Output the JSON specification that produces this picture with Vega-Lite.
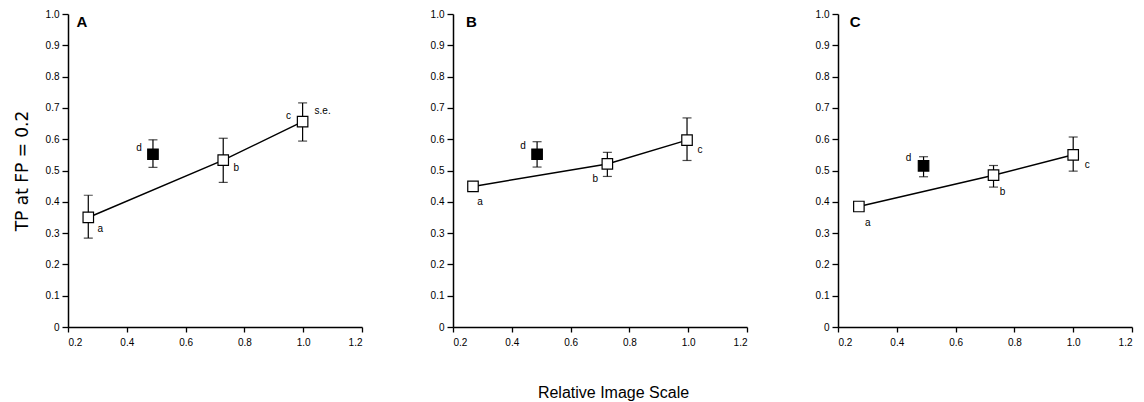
{
  "$schema": "https://vega.github.io/schema/vega-lite/v6.json",
  "background": "white",
  "padding": {"left": 13, "top": 9, "right": 5, "bottom": 5},
  "bounds": "flush",
  "spacing": 91,
  "config": {
    "view": {"stroke": null},
    "font": "Liberation Sans",
    "axis": {
      "grid": false,
      "domainColor": "black",
      "domainWidth": 1.5,
      "tickColor": "black",
      "tickWidth": 1.3,
      "tickSize": 5,
      "labelFont": "Liberation Sans",
      "labelFontSize": 10,
      "labelColor": "black",
      "titleColor": "black",
      "titleFont": "Liberation Sans",
      "titleFontWeight": "normal"
    }
  },
  "datasets": {
    "pts": [
      {"panel": "A", "pt": "a", "kind": "open", "x": 0.269, "y": 0.35, "lo": 0.284, "hi": 0.421, "pos": "se", "note": null},
      {"panel": "A", "pt": "d", "kind": "filled", "x": 0.489, "y": 0.552, "lo": 0.51, "hi": 0.598, "pos": "nw", "note": null},
      {"panel": "A", "pt": "b", "kind": "open", "x": 0.728, "y": 0.533, "lo": 0.462, "hi": 0.603, "pos": "e", "note": null},
      {"panel": "A", "pt": "c", "kind": "open", "x": 0.998, "y": 0.656, "lo": 0.594, "hi": 0.716, "pos": "nw", "note": "s.e."},
      {"panel": "B", "pt": "a", "kind": "open", "x": 0.268, "y": 0.449, "lo": null, "hi": null, "pos": "s", "note": null},
      {"panel": "B", "pt": "d", "kind": "filled", "x": 0.486, "y": 0.552, "lo": 0.511, "hi": 0.592, "pos": "nw", "note": null},
      {"panel": "B", "pt": "b", "kind": "open", "x": 0.725, "y": 0.521, "lo": 0.481, "hi": 0.558, "pos": "sw", "note": null},
      {"panel": "B", "pt": "c", "kind": "open", "x": 0.996, "y": 0.597, "lo": 0.532, "hi": 0.668, "pos": "e", "note": null},
      {"panel": "C", "pt": "a", "kind": "open", "x": 0.271, "y": 0.385, "lo": null, "hi": null, "pos": "s", "note": null},
      {"panel": "C", "pt": "d", "kind": "filled", "x": 0.491, "y": 0.515, "lo": 0.48, "hi": 0.544, "pos": "nw", "note": null},
      {"panel": "C", "pt": "b", "kind": "open", "x": 0.729, "y": 0.485, "lo": 0.447, "hi": 0.516, "pos": "s", "note": null},
      {"panel": "C", "pt": "c", "kind": "open", "x": 1.0, "y": 0.55, "lo": 0.498, "hi": 0.607, "pos": "e", "note": null}
    ]
  },
  "hconcat": [
    {
      "width": 294, "height": 313,
      "data": {"name": "pts"},
      "transform": [{"filter": "datum.panel == 'A'"}],
      "encoding": {
        "x": {"field": "x", "type": "quantitative", "scale": {"domain": [0.2, 1.2], "nice": false},
          "axis": {"values": [0.2, 0.4, 0.6, 0.8, 1.0, 1.2], "format": ".1f", "title": null, "labelPadding": 5}},
        "y": {"field": "y", "type": "quantitative", "scale": {"domain": [0, 1], "nice": false},
          "axis": {"values": [0, 0.1, 0.2, 0.3, 0.4, 0.5, 0.6, 0.7, 0.8, 0.9, 1.0], "labelExpr": "datum.value == 0 ? '0' : format(datum.value, '.1f')", "labelPadding": 3, "tickSize": 6,
            "title": "TP at FP = 0.2", "titleFont": "DejaVu Sans", "titleFontSize": 17, "titlePadding": 14}}
      },
      "layer": [
        {"transform": [{"filter": "datum.lo != null"}], "mark": {"type": "rule", "color": "black", "strokeWidth": 1.2}, "encoding": {"y": {"field": "lo", "type": "quantitative"}, "y2": {"field": "hi"}}},
        {"transform": [{"filter": "datum.lo != null"}], "mark": {"type": "tick", "orient": "horizontal", "color": "black", "size": 9, "thickness": 1.2}, "encoding": {"y": {"field": "lo", "type": "quantitative"}}},
        {"transform": [{"filter": "datum.lo != null"}], "mark": {"type": "tick", "orient": "horizontal", "color": "black", "size": 9, "thickness": 1.2}, "encoding": {"y": {"field": "hi", "type": "quantitative"}}},
        {"transform": [{"filter": "datum.kind == 'open'"}], "mark": {"type": "line", "color": "black", "strokeWidth": 1.5}, "encoding": {"order": {"field": "x", "type": "quantitative"}}},
        {"mark": {"type": "point", "shape": "square", "filled": true, "stroke": "black", "strokeWidth": 1.2, "size": 110, "opacity": 1},
          "encoding": {"fill": {"field": "kind", "type": "nominal", "scale": {"domain": ["open", "filled"], "range": ["white", "black"]}, "legend": null}}},
        {"transform": [{"filter": "datum.pos == 'se'"}], "mark": {"type": "text", "color": "black", "fontSize": 10, "dx": 12, "dy": 12}, "encoding": {"text": {"field": "pt"}}},
        {"transform": [{"filter": "datum.pos == 'e'"}], "mark": {"type": "text", "color": "black", "fontSize": 10, "dx": 13, "dy": 8}, "encoding": {"text": {"field": "pt"}}},
        {"transform": [{"filter": "datum.pos == 'nw'"}], "mark": {"type": "text", "color": "black", "fontSize": 10, "dx": -14, "dy": -6}, "encoding": {"text": {"field": "pt"}}},
        {"transform": [{"filter": "datum.note != null"}], "mark": {"type": "text", "color": "black", "fontSize": 10, "dx": 20, "dy": -11}, "encoding": {"text": {"field": "note"}}},
        {"transform": [{"filter": "datum.pt == 'a'"}], "mark": {"type": "text", "color": "black", "fontSize": 15, "fontWeight": "bold"},
          "encoding": {"x": {"datum": 0.247}, "y": {"datum": 0.976}, "text": {"field": "panel"}}}
      ]
    },
    {
      "width": 294, "height": 313,
      "data": {"name": "pts"},
      "transform": [{"filter": "datum.panel == 'B'"}],
      "encoding": {
        "x": {"field": "x", "type": "quantitative", "scale": {"domain": [0.2, 1.2], "nice": false},
          "axis": {"values": [0.2, 0.4, 0.6, 0.8, 1.0, 1.2], "format": ".1f", "labelPadding": 5,
            "title": "Relative Image Scale", "titleFontSize": 16, "titlePadding": 37, "titleX": 160}},
        "y": {"field": "y", "type": "quantitative", "scale": {"domain": [0, 1], "nice": false},
          "axis": {"values": [0, 0.1, 0.2, 0.3, 0.4, 0.5, 0.6, 0.7, 0.8, 0.9, 1.0], "labelExpr": "datum.value == 0 ? '0' : format(datum.value, '.1f')", "labelPadding": 3, "tickSize": 6, "title": null}}
      },
      "layer": [
        {"transform": [{"filter": "datum.lo != null"}], "mark": {"type": "rule", "color": "black", "strokeWidth": 1.2}, "encoding": {"y": {"field": "lo", "type": "quantitative"}, "y2": {"field": "hi"}}},
        {"transform": [{"filter": "datum.lo != null"}], "mark": {"type": "tick", "orient": "horizontal", "color": "black", "size": 9, "thickness": 1.2}, "encoding": {"y": {"field": "lo", "type": "quantitative"}}},
        {"transform": [{"filter": "datum.lo != null"}], "mark": {"type": "tick", "orient": "horizontal", "color": "black", "size": 9, "thickness": 1.2}, "encoding": {"y": {"field": "hi", "type": "quantitative"}}},
        {"transform": [{"filter": "datum.kind == 'open'"}], "mark": {"type": "line", "color": "black", "strokeWidth": 1.5}, "encoding": {"order": {"field": "x", "type": "quantitative"}}},
        {"mark": {"type": "point", "shape": "square", "filled": true, "stroke": "black", "strokeWidth": 1.2, "size": 110, "opacity": 1},
          "encoding": {"fill": {"field": "kind", "type": "nominal", "scale": {"domain": ["open", "filled"], "range": ["white", "black"]}, "legend": null}}},
        {"transform": [{"filter": "datum.pos == 'e'"}], "mark": {"type": "text", "color": "black", "fontSize": 10, "dx": 13, "dy": 10}, "encoding": {"text": {"field": "pt"}}},
        {"transform": [{"filter": "datum.pos == 's'"}], "mark": {"type": "text", "color": "black", "fontSize": 10, "dx": 7, "dy": 16}, "encoding": {"text": {"field": "pt"}}},
        {"transform": [{"filter": "datum.pos == 'sw'"}], "mark": {"type": "text", "color": "black", "fontSize": 10, "dx": -12, "dy": 15}, "encoding": {"text": {"field": "pt"}}},
        {"transform": [{"filter": "datum.pos == 'nw'"}], "mark": {"type": "text", "color": "black", "fontSize": 10, "dx": -14, "dy": -8}, "encoding": {"text": {"field": "pt"}}},
        {"transform": [{"filter": "datum.pt == 'a'"}], "mark": {"type": "text", "color": "black", "fontSize": 15, "fontWeight": "bold"},
          "encoding": {"x": {"datum": 0.263}, "y": {"datum": 0.976}, "text": {"field": "panel"}}}
      ]
    },
    {
      "width": 294, "height": 313,
      "data": {"name": "pts"},
      "transform": [{"filter": "datum.panel == 'C'"}],
      "encoding": {
        "x": {"field": "x", "type": "quantitative", "scale": {"domain": [0.2, 1.2], "nice": false},
          "axis": {"values": [0.2, 0.4, 0.6, 0.8, 1.0, 1.2], "format": ".1f", "title": null, "labelPadding": 5}},
        "y": {"field": "y", "type": "quantitative", "scale": {"domain": [0, 1], "nice": false},
          "axis": {"values": [0, 0.1, 0.2, 0.3, 0.4, 0.5, 0.6, 0.7, 0.8, 0.9, 1.0], "labelExpr": "datum.value == 0 ? '0' : format(datum.value, '.1f')", "labelPadding": 3, "tickSize": 6, "title": null}}
      },
      "layer": [
        {"transform": [{"filter": "datum.lo != null"}], "mark": {"type": "rule", "color": "black", "strokeWidth": 1.2}, "encoding": {"y": {"field": "lo", "type": "quantitative"}, "y2": {"field": "hi"}}},
        {"transform": [{"filter": "datum.lo != null"}], "mark": {"type": "tick", "orient": "horizontal", "color": "black", "size": 9, "thickness": 1.2}, "encoding": {"y": {"field": "lo", "type": "quantitative"}}},
        {"transform": [{"filter": "datum.lo != null"}], "mark": {"type": "tick", "orient": "horizontal", "color": "black", "size": 9, "thickness": 1.2}, "encoding": {"y": {"field": "hi", "type": "quantitative"}}},
        {"transform": [{"filter": "datum.kind == 'open'"}], "mark": {"type": "line", "color": "black", "strokeWidth": 1.5}, "encoding": {"order": {"field": "x", "type": "quantitative"}}},
        {"mark": {"type": "point", "shape": "square", "filled": true, "stroke": "black", "strokeWidth": 1.2, "size": 110, "opacity": 1},
          "encoding": {"fill": {"field": "kind", "type": "nominal", "scale": {"domain": ["open", "filled"], "range": ["white", "black"]}, "legend": null}}},
        {"transform": [{"filter": "datum.pos == 'e'"}], "mark": {"type": "text", "color": "black", "fontSize": 10, "dx": 14, "dy": 10}, "encoding": {"text": {"field": "pt"}}},
        {"transform": [{"filter": "datum.pos == 's'"}], "mark": {"type": "text", "color": "black", "fontSize": 10, "dx": 9, "dy": 17}, "encoding": {"text": {"field": "pt"}}},
        {"transform": [{"filter": "datum.pos == 'nw'"}], "mark": {"type": "text", "color": "black", "fontSize": 10, "dx": -15, "dy": -8}, "encoding": {"text": {"field": "pt"}}},
        {"transform": [{"filter": "datum.pt == 'a'"}], "mark": {"type": "text", "color": "black", "fontSize": 15, "fontWeight": "bold"},
          "encoding": {"x": {"datum": 0.258}, "y": {"datum": 0.975}, "text": {"field": "panel"}}}
      ]
    }
  ]
}
